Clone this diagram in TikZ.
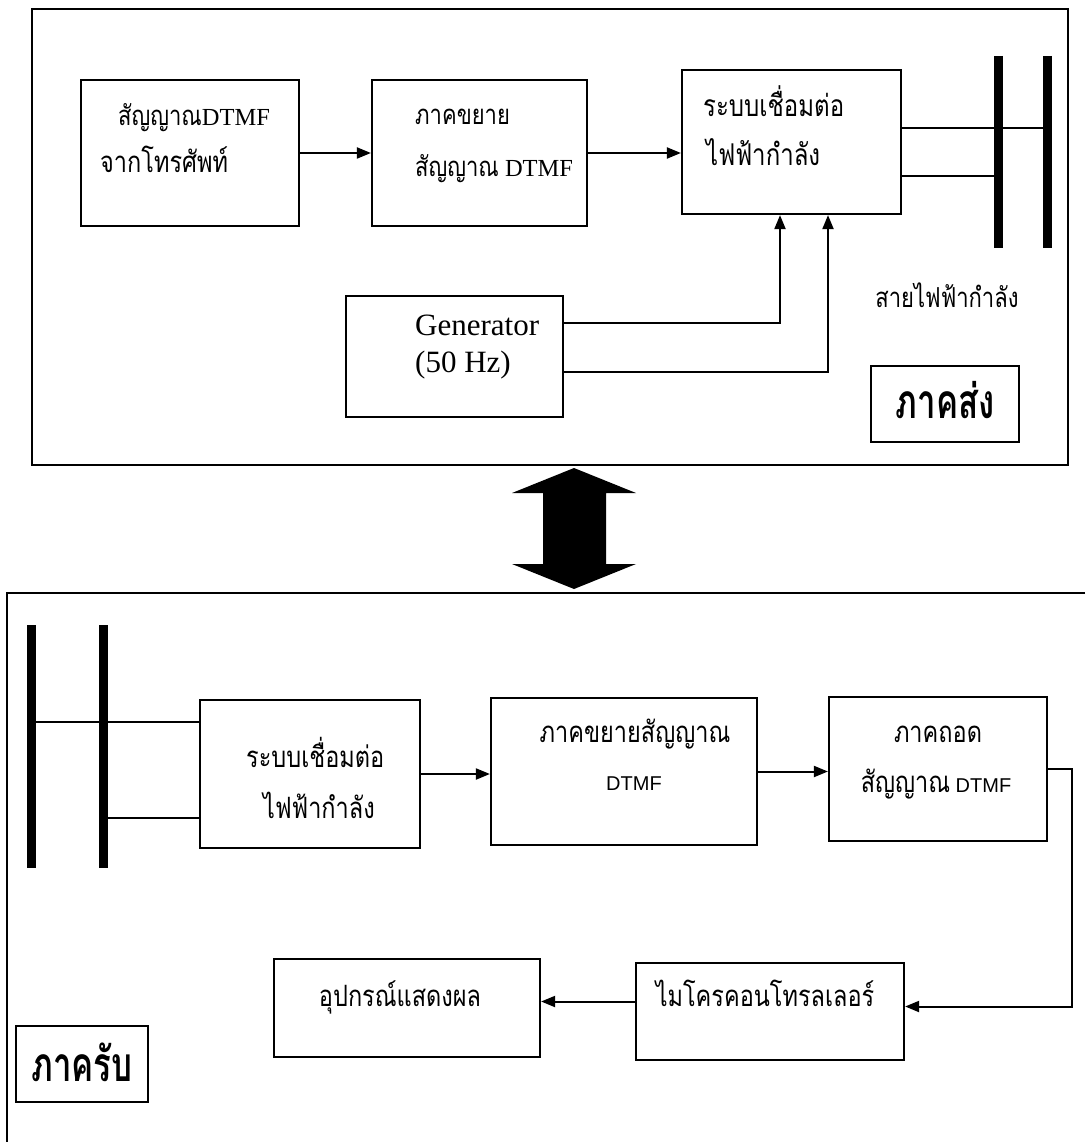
\documentclass[tikz,border=0pt]{standalone}
\usepackage{graphicx}
\usepackage{fontspec}
\setmainfont{Liberation Serif}
\newfontfamily\thai[Script=Thai]{Loma}
\newfontfamily\arialf{Liberation Sans}
\usetikzlibrary{arrows.meta}
\newcommand\thaitxt[2][22]{{\thai\fontsize{#1}{#1}\selectfont\scalebox{1}[1.25]{#2}}}
\newcommand\thaibold[1]{{\thai\bfseries\fontsize{33}{36}\selectfont\scalebox{1}[1.45]{#1}}}
\tikzset{
  box/.style={draw, line width=2.2pt, inner sep=0pt, rectangle},
  wire/.style={line width=2pt},
  arr/.style={line width=2pt, -{Triangle[length=14pt,width=11pt]}},
  busbar/.style={line width=9pt},
  frame/.style={line width=2.2pt},
  lbl/.style={inner sep=0pt, anchor=base west, font=\fontsize{24.5}{28}\selectfont},
  clbl/.style={inner sep=0pt, anchor=base, font=\fontsize{23}{27}\selectfont},
  slbl/.style={inner sep=0pt, anchor=base, font=\arialf\fontsize{20}{24}\selectfont},
}
\begin{document}
\begin{tikzpicture}[x=1pt,y=-1pt]
\fill[white] (0,0) rectangle (1085,1142);
\useasboundingbox (0,0) rectangle (1085,1142);

% ---------- top section ----------
\draw[frame] (32,9) rectangle (1068,465);

\node[box, minimum width=218pt, minimum height=146pt] (t1) at (190,153) {};
\node[box, minimum width=215pt, minimum height=146pt] (t2) at (479.5,153) {};
\node[box, minimum width=219pt, minimum height=144pt] (t3) at (791.5,142) {};
\node[box, minimum width=217pt, minimum height=121pt] (gen) at (454.5,356.5) {};
\node[box, minimum width=148pt, minimum height=76pt] (tsend) at (945,404) {};
\node[inner sep=0pt, anchor=base] (tsendt) at (945,418) {\thaibold{ภาคส่ง}};

\node[lbl] (t1a) at (118,126) {\thaitxt{สัญญาณ}DTMF};
\node[lbl] (t1b) at (100,173) {\thaitxt[23.5]{จากโทรศัพท์}};
\node[lbl] (t2a) at (415,125) {\thaitxt{ภาคขยาย}};
\node[lbl] (t2b) at (415,176) {\thaitxt{สัญญาณ} DTMF};
\node[lbl] (t3a) at (703,117) {\thaitxt[24]{ระบบเชื่อมต่อ}};
\node[lbl] (t3b) at (706,166) {\thaitxt[24]{ไฟฟ้ากำลัง}};
\node[lbl, font=\fontsize{31}{35}\selectfont] (gena) at (415,335) {Generator};
\node[lbl, font=\fontsize{31}{35}\selectfont] (genb) at (415,372) {(50 Hz)};
\node[clbl] (line) at (947,307) {\thaitxt{สายไฟฟ้ากำลัง}};

\coordinate (tb1top) at (998,56);
\coordinate (tb1bot) at (998,248);
\coordinate (tb2top) at (1047,56);
\coordinate (tb2bot) at (1047,248);
\draw[busbar] (tb1top) -- (tb1bot);
\draw[busbar] (tb2top) -- (tb2bot);

\draw[arr] (t1.east) -- (t2.west);
\draw[arr] (t2.east) -- (t2.east -| t3.west);
\draw[wire] ([yshift=14pt]t3.east) -- ([yshift=14pt]t3.east -| tb2top);
\draw[wire] ([yshift=-34pt]t3.east) -- ([yshift=-34pt]t3.east -| tb1top);
\draw[arr] ([yshift=33.5pt]gen.east) -| ([xshift=-11.5pt]t3.south);
\draw[arr] ([yshift=-15pt]gen.east) -| ([xshift=36.5pt]t3.south);

% ---------- double arrow ----------
\fill (574,468) -- (636,493) -- (606,493) -- (606,564) -- (636,564) -- (574,589)
  -- (512,564) -- (543,564) -- (543,493) -- (512,493) -- cycle;

% ---------- bottom section ----------
\draw[frame] (1085,593) -- (7,593) -- (7,1142);

\coordinate (rb1top) at (31.5,625);
\coordinate (rb1bot) at (31.5,868);
\coordinate (rb2top) at (103.5,625);
\coordinate (rb2bot) at (103.5,868);
\draw[busbar] (rb1top) -- (rb1bot);
\draw[busbar] (rb2top) -- (rb2bot);

\node[box, minimum width=220pt, minimum height=148pt] (r1) at (310,774) {};
\node[box, minimum width=266pt, minimum height=147pt] (r2) at (624,771.5) {};
\node[box, minimum width=218pt, minimum height=144pt] (r3) at (938,769) {};
\node[box, minimum width=268pt, minimum height=97pt] (mc) at (770,1011.5) {};
\node[box, minimum width=266pt, minimum height=98pt] (disp) at (407,1008) {};
\node[box, minimum width=132pt, minimum height=76pt] (rrecv) at (82,1064) {};
\node[inner sep=0pt, anchor=base] (rrecvt) at (82,1081) {\thaibold{ภาครับ}};

\node[lbl] (r1a) at (246,767) {\thaitxt[23.5]{ระบบเชื่อมต่อ}};
\node[lbl] (r1b) at (263,818) {\thaitxt[23.5]{ไฟฟ้ากำลัง}};
\node[slbl] (r2a) at (635,742) {\thaitxt[23.5]{ภาคขยายสัญญาณ}};
\node[slbl] (r2b) at (634,790) {DTMF};
\node[slbl] (r3a) at (938,742) {\thaitxt[23.5]{ภาคถอด}};
\node[slbl] (r3b) at (936,792) {\thaitxt[23.5]{สัญญาณ} DTMF};
\node[slbl] (mca) at (765,1006) {\thaitxt[23.5]{ไมโครคอนโทรลเลอร์}};
\node[slbl] (dispa) at (400,1006) {\thaitxt[23.5]{อุปกรณ์แสดงผล}};

\draw[wire] ([yshift=52pt]r1.west) -- ([yshift=52pt]r1.west -| rb1top);
\draw[wire] ([yshift=-44pt]r1.west) -- ([yshift=-44pt]r1.west -| rb2top);
\draw[arr] (r1.east) -- (r1.east -| r2.west);
\draw[arr] (r2.east) -- (r2.east -| r3.west);
\coordinate (rturn) at (1072,0);
\draw[arr] (r3.east) -- (r3.east -| rturn) |- ([yshift=5pt]mc.east);
\draw[arr] ([yshift=10pt]mc.west) -- ([yshift=10pt]mc.west -| disp.east);
\end{tikzpicture}
\end{document}
